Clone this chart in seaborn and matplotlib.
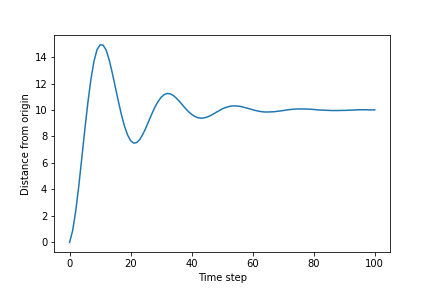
import matplotlib
matplotlib.use("Agg")
import matplotlib.pyplot as plt
import seaborn as sns

time_step = list(range(101))
distance = [
    0.00, 0.88, 2.33, 4.22, 6.35, 8.52, 10.56, 12.32, 13.68, 14.56,
    14.92, 14.90, 14.52, 13.77, 12.80, 11.72, 10.65, 9.64, 8.78, 8.12,
    7.69, 7.50, 7.54, 7.77, 8.16, 8.65, 9.19, 9.73, 10.23, 10.64,
    10.96, 11.16, 11.25, 11.22, 11.10, 10.89, 10.65, 10.38, 10.11, 9.87,
    9.67, 9.52, 9.42, 9.38, 9.40, 9.46, 9.56, 9.68, 9.82, 9.95,
    10.08, 10.18, 10.25, 10.30, 10.31, 10.30, 10.27, 10.21, 10.15, 10.09,
    10.02, 9.96, 9.91, 9.87, 9.85, 9.85, 9.86, 9.87, 9.90, 9.93,
    9.96, 10.00, 10.03, 10.05, 10.07, 10.08, 10.08, 10.08, 10.07, 10.06,
    10.04, 10.02, 10.00, 9.99, 9.98, 9.97, 9.96, 9.96, 9.96, 9.97,
    9.97, 9.98, 9.99, 10.00, 10.01, 10.02, 10.02, 10.02, 10.01, 10.01,
    10.01,
]

fig, ax = plt.subplots(figsize=(6, 4), dpi=72)
fig.subplots_adjust(left=0.1257, right=0.9028, top=0.8785, bottom=0.124)
sns.lineplot(x=time_step, y=distance, ax=ax, color="#1f77b4")
ax.set_xlabel("Time step")
ax.set_ylabel("Distance from origin")
fig.savefig("out.png", dpi=72)
